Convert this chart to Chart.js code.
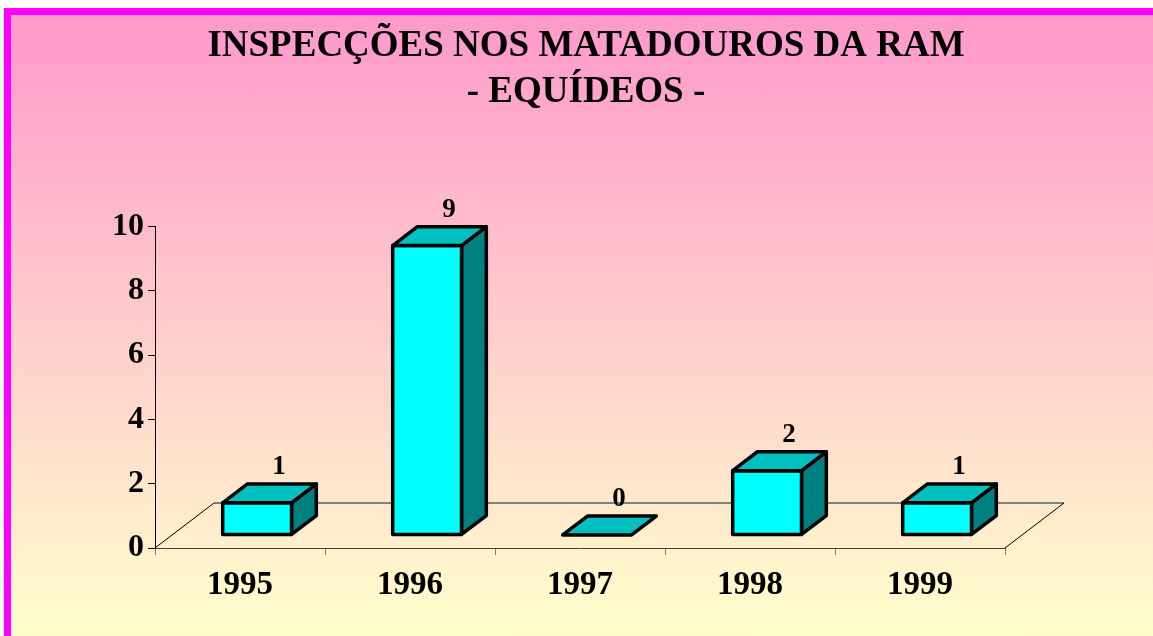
<!DOCTYPE html>
<html>
<head>
<meta charset="utf-8">
<script src="https://cdn.jsdelivr.net/npm/chart.js@4/dist/chart.umd.min.js"></script>
<style>
  body { margin: 0; background: #ffffff; }
  #frame {
    position: absolute; left: 4px; top: 8px; width: 1149px; height: 628px;
    border-left: 7px solid #ff00ff; border-top: 7px solid #ff00ff;
    box-sizing: border-box;
    background: linear-gradient(to bottom, #ff99cc 0%, #ffffcc 100%);
  }
  #box { position: absolute; left: 0; top: 0; width: 1153px; height: 636px; }
</style>
</head>
<body>
<div id="frame"></div>
<div id="box"><canvas id="myChart"></canvas></div>
<script>
var years = ['1995', '1996', '1997', '1998', '1999'];
var inspections = [1, 9, 0, 2, 1];
var yTicks = [0, 2, 4, 6, 8, 10];
var titleLines = ['INSPECÇÕES NOS MATADOUROS DA RAM', '- EQUÍDEOS -'];

var FONT = "'Liberation Serif', 'Times New Roman', serif";
// depth of the floor, in pixels
var DX = 59, DY = -45;

var floor3d = {
  id: 'floor3d',
  beforeDatasetsDraw: function(chart) {
    var c = chart.ctx, a = chart.chartArea;
    c.save();
    c.strokeStyle = '#808080';
    c.lineWidth = 2;
    c.beginPath();
    c.moveTo(a.left + DX, a.bottom + DY);
    c.lineTo(a.right + DX, a.bottom + DY);
    c.stroke();
    c.strokeStyle = '#000000';
    c.lineWidth = 1;
    c.beginPath();
    c.moveTo(a.left, a.bottom);
    c.lineTo(a.left + DX, a.bottom + DY);
    c.moveTo(a.right, a.bottom);
    c.lineTo(a.right + DX, a.bottom + DY);
    c.stroke();
    c.restore();
  },
  afterDatasetsDraw: function(chart) {
    var c = chart.ctx;
    var meta = chart.getDatasetMeta(0);
    var ox = DX * 0.29, oy = DY * 0.29;   // bar front plane
    var bx = DX * 0.42, by = DY * 0.42;   // bar depth
    c.save();
    c.lineWidth = 3.5;
    c.lineJoin = 'round';
    c.strokeStyle = '#000000';
    meta.data.forEach(function(el, i) {
      var p = el.getProps(['x', 'y', 'base', 'width'], true);
      var x0 = p.x - p.width / 2 + ox, x1 = x0 + p.width;
      var top = p.y + oy, bot = p.base + oy;

      if (bot - top > 0.5) {
        // side
        c.fillStyle = '#008080';
        c.beginPath();
        c.moveTo(x1, top);
        c.lineTo(x1 + bx, top + by);
        c.lineTo(x1 + bx, bot + by);
        c.lineTo(x1, bot);
        c.closePath();
        c.fill();
        c.stroke();
        // front
        c.fillStyle = '#00ffff';
        c.fillRect(x0, top, p.width, bot - top);
        c.strokeRect(x0, top, p.width, bot - top);
      }
      // top
      c.fillStyle = '#00c0c0';
      c.beginPath();
      c.moveTo(x0, top);
      c.lineTo(x0 + bx, top + by);
      c.lineTo(x1 + bx, top + by);
      c.lineTo(x1, top);
      c.closePath();
      c.fill();
      c.stroke();

      c.fillStyle = '#000000';
      c.font = 'bold 27px ' + FONT;
      c.textAlign = 'center';
      c.textBaseline = 'alphabetic';
      c.fillText(String(inspections[i]), (x0 + x1) / 2 + 22, top + by - 10);
    });
    c.restore();
  }
};

var ctx = document.getElementById('myChart');

var barGraph = new Chart(ctx, {
  type: 'bar',
  data: {
    labels: years,
    datasets: [{
      label: 'Equídeos',
      data: inspections,
      backgroundColor: 'rgba(0,0,0,0)',
      borderWidth: 0,
      categoryPercentage: 1,
      barPercentage: 0.405
    }]
  },
  options: {
    responsive: true,
    maintainAspectRatio: false,
    animation: false,
    layout: { padding: { left: 20, right: 1, top: 0, bottom: 0 } },
    plugins: {
      legend: { display: false },
      tooltip: { enabled: false },
      title: {
        display: true,
        text: titleLines,
        color: '#000000',
        font: { family: FONT, size: 37, weight: 'bold', lineHeight: 1.25 },
        padding: { top: 23, bottom: 111 }
      }
    },
    scales: {
      x: {
        grid: { drawOnChartArea: false, tickLength: 7, color: '#808080', offset: true },
        border: { display: true, color: '#404040', width: 1 },
        ticks: { color: '#000000', padding: 11, font: { family: FONT, size: 33, weight: 'bold' } },
        afterFit: function(s) { s.height = 88; }
      },
      y: {
        min: 0,
        max: 10,
        afterBuildTicks: function(s) { s.ticks = yTicks.map(function(v) { return { value: v }; }); },
        grid: { drawOnChartArea: false, tickLength: 7, color: '#000000' },
        border: { display: true, color: '#000000', width: 1 },
        ticks: { color: '#000000', padding: 4, font: { family: FONT, size: 32, weight: 'bold' } },
        afterFit: function(s) { s.width = 135; }
      },
      yr: {
        position: 'right',
        display: true,
        grid: { display: false },
        border: { display: false },
        ticks: { display: false },
        afterFit: function(s) { s.width = 147; }
      }
    }
  },
  plugins: [floor3d]
});
</script>
</body>
</html>
